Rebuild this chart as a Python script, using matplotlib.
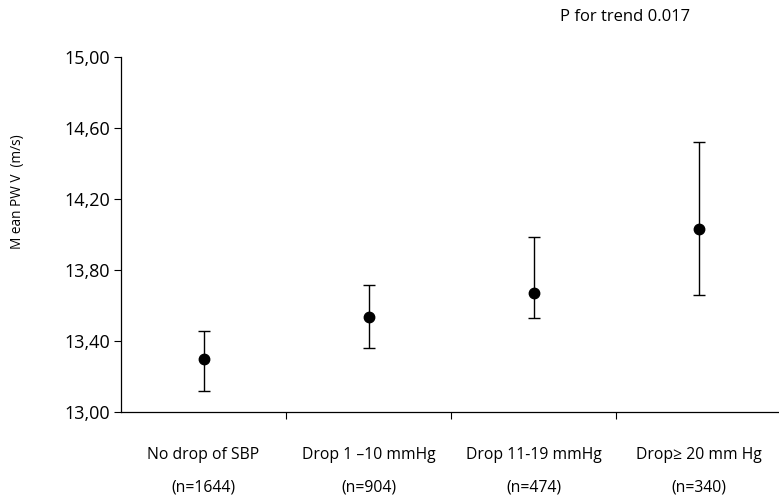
import matplotlib
matplotlib.use("Agg")
import matplotlib.pyplot as plt
import matplotlib.transforms as mtransforms
import numpy as np

groups = ["No drop of SBP", "Drop 1 \u201310 mmHg", "Drop 11-19 mmHg", "Drop\u2265 20 mm Hg"]
counts = ["(n=1644)", "(n=904)", "(n=474)", "(n=340)"]
mean_pwv = [13.295, 13.535, 13.668, 14.028]
ci_low = [13.118, 13.357, 13.528, 13.657]
ci_high = [13.456, 13.713, 13.983, 14.518]
y_ticks = [13.00, 13.40, 13.80, 14.20, 14.60, 15.00]

plt.rcParams['font.family'] = ['Open Sans', 'DejaVu Sans']

fig = plt.figure(figsize=(7.79, 4.99), dpi=100)
W, H = 779, 499
ax = fig.add_axes([121 / W, 1 - 411.7 / H, 660 / W, 355 / H])

x = np.arange(len(groups)) + 0.5
mean = np.array(mean_pwv)
err = [mean - np.array(ci_low), np.array(ci_high) - mean]
ax.errorbar(x, mean, yerr=err, fmt='o', color='black', ms=7.5,
            elinewidth=1.0, capsize=4, capthick=1.0)

ax.set_xlim(0, 4)
ax.set_ylim(13.0, 15.0)
ax.set_yticks(y_ticks)
ax.set_yticklabels([f"{v:.2f}".replace(".", ",") for v in y_ticks], fontsize=13)
ax.tick_params(axis='y', direction='out', length=5, width=0.8, pad=3)

# boundary ticks on x, labels at the group centres
ax.set_xticks([1, 2, 3])
ax.set_xticklabels([])
ax.tick_params(axis='x', direction='out', length=5, width=0.8)

trans = mtransforms.blended_transform_factory(ax.transData, fig.transFigure)
for xi, g, n in zip(x, groups, counts):
    ax.text(xi, 1 - 455 / H, g, transform=trans, ha='center', va='center',
            fontsize=11.3)
    ax.text(xi, 1 - 488 / H, n, transform=trans, ha='center', va='center',
            fontsize=11.3)

for s in ['top', 'right']:
    ax.spines[s].set_visible(False)
for s in ['left', 'bottom']:
    ax.spines[s].set_linewidth(0.9)

fig.text(18 / W, 1 - 192 / H, "M ean PW V  (m/s)", rotation=90,
         ha='center', va='center', fontsize=9.8)
fig.text(625 / W, 1 - 17 / H, "P for trend 0.017", ha='center', va='center',
         fontsize=12)

fig.savefig("out.png", dpi=100)
